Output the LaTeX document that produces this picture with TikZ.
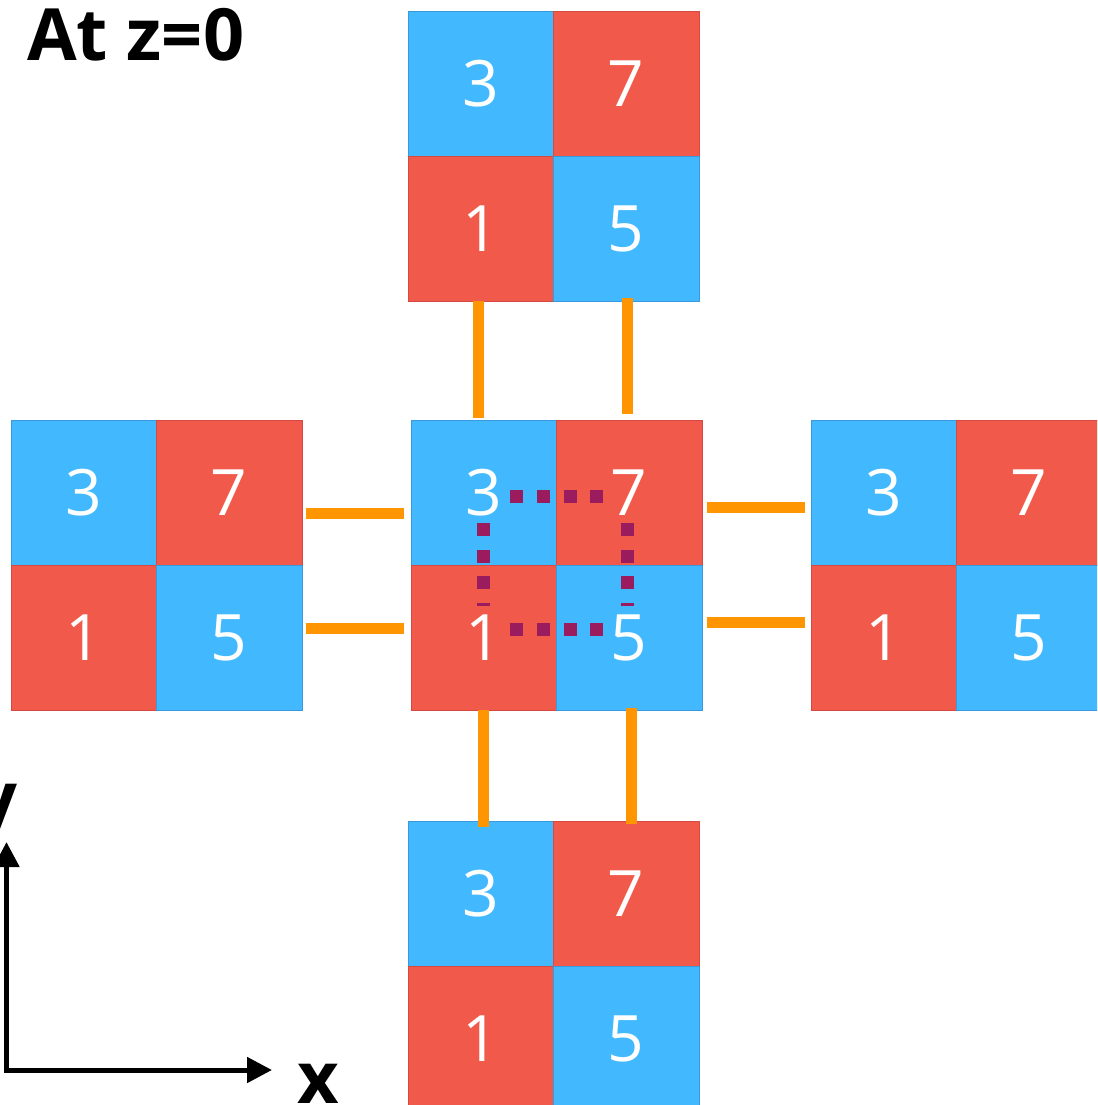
\documentclass[tikz,border=0pt]{standalone}
\usepackage{fontspec}
\newfontfamily\numfont{Open Sans}
\usetikzlibrary{calc,arrows.meta}
\definecolor{cellblue}{RGB}{66,185,255}
\definecolor{cellred}{RGB}{241,90,74}
\definecolor{edgeblue}{RGB}{58,152,222}
\definecolor{edgered}{RGB}{214,72,66}
\definecolor{connorange}{RGB}{255,149,0}
\definecolor{dotpurple}{RGB}{155,27,95}
\tikzset{
  cellbox/.style={rectangle, inner sep=0pt, minimum width=145.5pt, minimum height=145pt,
    text=white, font=\numfont\fontsize{64}{64}\selectfont, line width=0.8pt},
  bluecell/.style={cellbox, fill=cellblue, draw=edgeblue},
  redcell/.style={cellbox, fill=cellred, draw=edgered},
  conn/.style={draw=connorange, line width=11pt},
  dots/.style={draw=dotpurple, line width=13pt, dash pattern=on 13pt off 13.7pt},
  axis/.style={draw=black, line width=5pt, -{Triangle[length=25pt,width=25pt]}},
  biglabel/.style={font=\numfont\bfseries\fontsize{72}{72}\selectfont, inner sep=0pt}
}
\newcommand\drawblock[3]{%
  \node[bluecell] (#1c3) at ($(#2,#3)+(72.75,72.5)$) {3};
  \node[redcell]  (#1c7) at ($(#2,#3)+(218.25,72.5)$) {7};
  \node[redcell]  (#1c1) at ($(#2,#3)+(72.75,217.5)$) {1};
  \node[bluecell] (#1c5) at ($(#2,#3)+(218.25,217.5)$) {5};
}
\begin{document}
\begin{tikzpicture}[x=1pt,y=-1pt]
\path[use as bounding box, clip] (0,0) rectangle (1097,1105);
\fill[white] (0,0) rectangle (1097,1105);

\drawblock{t}{408}{11}
\drawblock{l}{11}{420}
\drawblock{c}{411}{420}
\drawblock{r}{811}{420}
\drawblock{b}{408}{821}

% orange connectors
\draw[conn] ([xshift=-2.5pt]tc1.south) -- ([xshift=-5.5pt,yshift=2pt]cc3.north);
\draw[conn] ([xshift=1pt,yshift=3pt]tc5.south) -- ([xshift=-2pt,yshift=6pt]cc7.north);
\draw[conn] ([xshift=4pt,yshift=-20.5pt]lc7.east) -- ([xshift=-7pt,yshift=-20.5pt]cc3.west);
\draw[conn] ([xshift=4pt,yshift=9.5pt]lc5.east) -- ([xshift=-7pt,yshift=9.5pt]cc1.west);
\draw[conn] ([xshift=5pt,yshift=-14.5pt]cc7.east) -- ([xshift=-6pt,yshift=-14.5pt]rc3.west);
\draw[conn] ([xshift=5pt,yshift=15.5pt]cc5.east) -- ([xshift=-6pt,yshift=15.5pt]rc1.west);
\draw[conn] ([xshift=-0.5pt]cc1.south) -- ([xshift=2.5pt,yshift=-6pt]bc3.north);
\draw[conn] ([xshift=2pt,yshift=2pt]cc5.south) -- ([xshift=5pt,yshift=-3pt]bc7.north);

% purple dotted links
\draw[dots] ([xshift=26.5pt,yshift=-4pt]cc3.center) -- ([xshift=-26pt,yshift=-4pt]cc7.center);
\draw[dots] ([xshift=26.5pt,yshift=8.5pt]cc1.center) -- ([xshift=-26pt,yshift=8.5pt]cc5.center);
\draw[dots] ([yshift=-30.5pt]cc3.center) -- ([yshift=31.5pt]cc1.center);
\draw[dots] ([xshift=-1.5pt,yshift=-30.5pt]cc7.center) -- ([xshift=-1.5pt,yshift=31.5pt]cc5.center);

% title
\node[biglabel, anchor=base west] (title) at (27,61) {At z=0};

% axes
\coordinate (origin) at (6.5,1070);
\coordinate (ytip) at (6.5,842);
\coordinate (xtip) at (272,1070);
\draw[axis] (origin) -- (ytip);
\draw[axis] ([xshift=-2.5pt]origin) -- (xtip);
\node[biglabel, anchor=base west] (xlabel) at (297,1103) {x};
\node[biglabel, anchor=base east] (ylabel) at (18,823) {y};
\end{tikzpicture}
\end{document}
